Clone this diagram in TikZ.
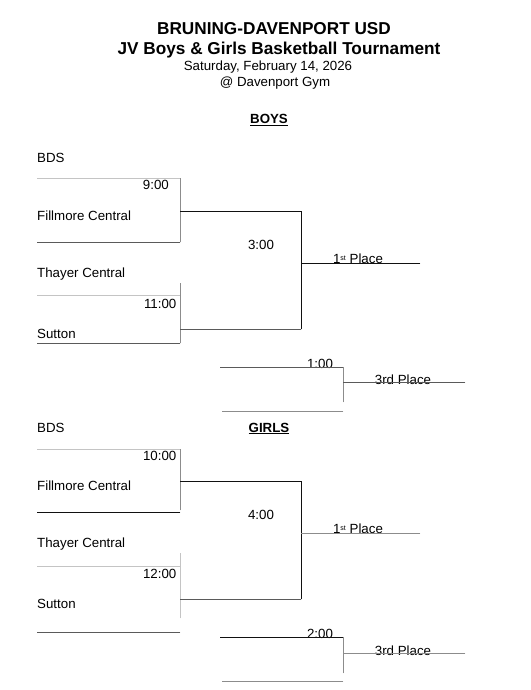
\documentclass[tikz,border=0pt]{standalone}
\usepackage{fontspec}
\setmainfont{Liberation Sans}
\usepackage{xcolor}
\usepackage{tikz}
\usetikzlibrary{positioning,calc}
\definecolor{BKInk}{HTML}{111111}
\definecolor{BKDark}{HTML}{5A5A5A}
\definecolor{BKGrey}{HTML}{8C8C8C}
\definecolor{BKFaint}{HTML}{C4C4C4}
\newcommand{\bkbody}{\fontsize{13.3}{16}\selectfont}
\newcommand{\bkhead}{\fontsize{17.2}{20}\selectfont\bfseries}
\newcommand{\bkst}{\raisebox{3pt}{\fontsize{7}{8}\selectfont st}}
\tikzset{
  bkline/.style={line width=0.9pt,line cap=rect},
  bkink/.style={bkline,draw=BKInk},
  bkdark/.style={bkline,draw=BKDark},
  bkgrey/.style={bkline,draw=BKGrey},
  bkfaint/.style={bkline,draw=BKFaint},
  bktext/.style={inner sep=0pt,font=\bkbody,text=black},
  bkteam/.style={bktext,anchor=base west},
  bktime/.style={bktext,anchor=base east},
  bkslot/.style={bktext,anchor=base},
  bktitle/.style={inner sep=0pt,anchor=base,font=\bkhead,text=black},
  bksection/.style={bktext,anchor=base,font=\bkbody\bfseries},
}

\begin{document}
\begin{tikzpicture}[x=1pt,y=-1pt]
  \useasboundingbox[fill=white] (0,0) rectangle (530,690);

  % heading
  \node[bktitle] (title) at (274,35) {BRUNING-DAVENPORT USD};
  \node[bktitle] (subtitle) at (279,54.5) {JV Boys \& Girls Basketball Tournament};
  \node[bkslot] (date) at (268,71) {Saturday, February 14, 2026};
  \node[bkslot] (venue) at (275,87) {@ Davenport Gym};

  %% BOYS bracket
  \node[bksection] (boys) at (269,124) {\underline{BOYS}};
  \node[bkteam] (bbds) at (37,162) {BDS};
  \node[bktime] (b900) at (169,189.5) {9:00};
  \node[bkteam] (bfill) at (37,220) {Fillmore Central};
  \node[bkteam] (bthay) at (37,277.5) {Thayer Central};
  \node[bktime] (b1100) at (176.5,308.5) {11:00};
  \node[bkteam] (bsut) at (37,338.5) {Sutton};
  \node[bkslot] (b300) at (261,249.5) {3:00};
  \node[bkslot] (bfirst) at (358,263) {1\bkst\ Place};
  \node[bkslot] (b100) at (320,368.5) {1:00};
  \node[bkslot] (bthird) at (403,384) {3rd Place};

  \coordinate (ba1) at (37,178);  \coordinate (ba2) at (180,178);
  \coordinate (ba3) at (37,242);  \coordinate (ba4) at (180,242);
  \coordinate (bb1) at (37,295);  \coordinate (bb2) at (180,295);
  \coordinate (bb3) at (37,343);  \coordinate (bb4) at (180,343);
  \coordinate (bb0) at (180,283);
  \coordinate (bw1) at (180,211); \coordinate (bw2) at (301,211);
  \coordinate (bw3) at (180,329); \coordinate (bw4) at (301,329);
  \coordinate (bf1) at (301,263); \coordinate (bf2) at (420,263);
  \coordinate (bc1) at (220,367); \coordinate (bc2) at (343,367);
  \coordinate (bc3) at (222,411); \coordinate (bc4) at (343,411);
  \coordinate (bc5) at (343,402);
  \coordinate (bt1) at (343,382); \coordinate (bt2) at (465,382);

  \draw[bkfaint] (ba1) -- (ba2);
  \draw[bkgrey] (ba2) -- (ba4);
  \draw[bkdark] (ba3) -- (ba4);
  \draw[bkfaint] (bb1) -- (bb2);
  \draw[bkgrey] (bb0) -- (bb4);
  \draw[bkdark] (bb3) -- (bb4);
  \draw[bkink] (bw1) -- (bw2) -- (bw4);
  \draw[bkdark] (bw3) -- (bw4);
  \draw[bkink] (bf1) -- (bf2);
  \draw[bkdark] (bc1) -- (bc2);
  \draw[bkgrey] (bc2) -- (bc5);
  \draw[bkgrey] (bc3) -- (bc4);
  \draw[bkdark] (bt1) -- (bt2);

  %% GIRLS bracket
  \node[bksection] (girls) at (269,432) {\underline{GIRLS}};
  \node[bkteam] (gbds) at (37,432) {BDS};
  \node[bktime] (g1000) at (176.5,460) {10:00};
  \node[bkteam] (gfill) at (37,490) {Fillmore Central};
  \node[bkteam] (gthay) at (37,547.5) {Thayer Central};
  \node[bktime] (g1200) at (176.5,578.5) {12:00};
  \node[bkteam] (gsut) at (37,608) {Sutton};
  \node[bkslot] (g400) at (261,519.5) {4:00};
  \node[bkslot] (gfirst) at (358,533) {1\bkst\ Place};
  \node[bkslot] (g200) at (320,638.5) {2:00};
  \node[bkslot] (gthird) at (403,655) {3rd Place};

  \coordinate (ga1) at (37,449);  \coordinate (ga2) at (180,449);
  \coordinate (ga3) at (37,512);  \coordinate (ga4) at (180,512);
  \coordinate (ga5) at (180,510);
  \coordinate (gb1) at (37,566);  \coordinate (gb2) at (180,566);
  \coordinate (gb0) at (180,553); \coordinate (gb5) at (180,618);
  \coordinate (gb3) at (37,632);  \coordinate (gb4) at (180,632);
  \coordinate (gw1) at (180,481); \coordinate (gw2) at (301,481);
  \coordinate (gw3) at (180,599); \coordinate (gw4) at (301,599);
  \coordinate (gf1) at (301,533); \coordinate (gf2) at (420,533);
  \coordinate (gc1) at (220,637); \coordinate (gc2) at (343,637);
  \coordinate (gc3) at (222,681); \coordinate (gc4) at (343,681);
  \coordinate (gc5) at (343,673);
  \coordinate (gt1) at (343,653); \coordinate (gt2) at (465,653);

  \draw[bkfaint] (ga1) -- (ga2);
  \draw[bkgrey] (ga2) -- (ga5);
  \draw[bkink] (ga3) -- (ga4);
  \draw[bkfaint] (gb1) -- (gb2);
  \draw[bkfaint] (gb0) -- (gb5);
  \draw[bkdark] (gb3) -- (gb4);
  \draw[bkink] (gw1) -- (gw2) -- (gw4);
  \draw[bkdark] (gw3) -- (gw4);
  \draw[bkgrey] (gf1) -- (gf2);
  \draw[bkink] (gc1) -- (gc2);
  \draw[bkgrey] (gc2) -- (gc5);
  \draw[bkgrey] (gc3) -- (gc4);
  \draw[bkgrey] (gt1) -- (gt2);
\end{tikzpicture}
\end{document}
